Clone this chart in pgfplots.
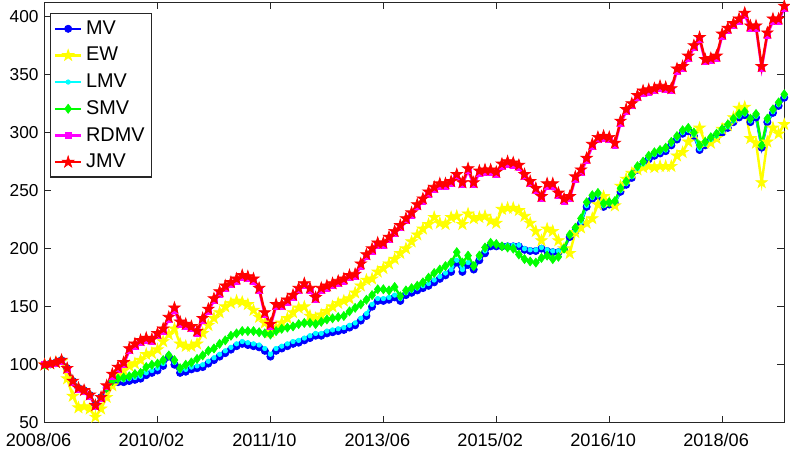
\documentclass[border=0pt]{standalone}
\usepackage{fontspec}
\setmainfont{Liberation Sans}
\usepackage{pgfplots}
\usepackage{pgfplotstable}
\pgfplotsset{compat=1.18}

\definecolor{mblue}{rgb}{0,0,1}
\definecolor{myellow}{rgb}{1,1,0}
\definecolor{mcyan}{rgb}{0,1,1}
\definecolor{mgreen}{rgb}{0,1,0}
\definecolor{mmagenta}{rgb}{1,0,1}
\definecolor{mred}{rgb}{1,0,0}

% filled five-pointed star, like MATLAB's 'p'
\pgfdeclareplotmark{pstar}{%
  \pgfpathmoveto{\pgfqpointpolar{90}{\pgfplotmarksize}}%
  \pgfpathlineto{\pgfqpointpolar{126}{0.382\pgfplotmarksize}}%
  \pgfpathlineto{\pgfqpointpolar{162}{\pgfplotmarksize}}%
  \pgfpathlineto{\pgfqpointpolar{198}{0.382\pgfplotmarksize}}%
  \pgfpathlineto{\pgfqpointpolar{234}{\pgfplotmarksize}}%
  \pgfpathlineto{\pgfqpointpolar{270}{0.382\pgfplotmarksize}}%
  \pgfpathlineto{\pgfqpointpolar{306}{\pgfplotmarksize}}%
  \pgfpathlineto{\pgfqpointpolar{342}{0.382\pgfplotmarksize}}%
  \pgfpathlineto{\pgfqpointpolar{18}{\pgfplotmarksize}}%
  \pgfpathlineto{\pgfqpointpolar{54}{0.382\pgfplotmarksize}}%
  \pgfpathclose
  \pgfusepathqfillstroke}

% month index from 2008/06
\pgfplotstableread{
m MV EW LMV SMV RDMV JMV
0 100 100 100 100 100 100
1 101 101 101 101 100 101
2 102 102 102 102 101 102
3 104 103 104 104 103 104
4 97 88 97 97 96 97
5 86 73 86 86 85 86
6 80 63 80 80 79 80
7 78 64 78 78 77 78
8 74 62 74 74 73 74
9 65 55 65 65 64 65
10 72 62 72 72 71 72
11 80 72 80 80 81 82
12 84 82 86 86 90 92
13 85 90 87 88 96 98
14 85 95 87 89 100 102
15 86 99 88 90 112 114
16 87 101 89 92 116 118
17 88 104 90 93 119 121
18 91 109 93 98 121 123
19 93 110 95 100 120 122
20 95 113 97 101 125 127
21 99 120 101 104 129 131
22 107 126 109 108 139 141
23 100 131 102 104 147 149
24 93 118 95 97 135 137
25 94 116 96 100 133 135
26 96 116 98 102 131 133
27 97 118 99 105 127 129
28 98 127 100 108 138 140
29 101 134 103 112 146 148
30 104 140 106 114 155 157
31 107 145 109 118 161 163
32 110 150 112 121 166 168
33 113 153 115 125 169 171
34 116 155 118 127 172 174
35 118 154 120 129 175 177
36 117 152 119 129 174 176
37 116 147 118 129 172 174
38 115 141 117 128 164 166
39 112 136 114 127 143 145
40 107 128 109 126 133 135
41 112 132 114 129 150 152
42 114 136 116 131 150 152
43 116 140 118 132 154 156
44 118 145 120 133 158 160
45 119 149 121 135 164 166
46 121 150 123 136 168 170
47 123 142 125 136 164 166
48 125 140 127 135 156 158
49 125 143 127 137 164 166
50 127 146 129 139 166 168
51 128 150 130 140 168 170
52 129 153 131 141 170 172
53 130 155 132 142 172 174
54 132 157 134 146 175 177
55 134 162 136 149 176 178
56 138 168 140 152 185 187
57 142 173 144 156 193 195
58 150 174 152 160 198 200
59 155 180 157 165 203 205
60 155 183 157 165 203 205
61 156 187 158 164 208 210
62 158 191 160 167 213 215
63 155 196 157 159 218 220
64 160 200 162 164 224 226
65 162 206 164 166 229 231
66 164 212 166 168 236 238
67 166 217 168 171 241 243
68 168 221 170 175 247 249
69 171 227 173 179 251 253
70 174 222 176 182 254 256
71 177 221 179 185 254 256
72 180 227 182 188 256 258
73 188 228 190 197 262 264
74 180 221 182 188 255 257
75 186 230 188 194 267 269
76 182 226 184 185 255 257
77 190 227 192 194 265 267
78 196 228 198 201 266 268
79 202 224 204 205 266 268
80 202 222 204 204 264 266
81 202 234 203 202 271 273
82 202 235 203 201 273 275
83 202 235 203 200 272 274
84 202 233 203 195 270 272
85 199 228 200 191 262 264
86 198 222 199 189 256 258
87 198 215 199 188 250 252
88 200 207 201 192 243 245
89 198 217 199 194 254 256
90 197 215 198 191 254 256
91 197 207 198 193 246 248
92 200 200 201 200 241 243
93 210 196 211 212 243 245
94 215 214 216 218 260 262
95 222 218 223 226 266 268
96 236 222 237 240 276 278
97 243 226 244 246 288 290
98 245 238 246 248 294 296
99 236 245 237 239 295 297
100 238 240 239 240 294 296
101 239 237 240 241 289 291
102 249 254 250 252 308 310
103 255 260 256 258 318 320
104 261 265 262 264 323 325
105 268 268 269 271 330 332
106 272 270 273 275 334 336
107 277 271 278 280 335 337
108 280 270 281 283 336 338
109 282 271 283 285 338 340
110 284 271 285 287 337 339
111 289 271 290 292 336 338
112 294 280 295 297 353 355
113 299 283 300 302 355 357
114 301 292 302 304 364 366
115 297 299 298 300 373 375
116 285 304 286 289 380 382
117 289 291 290 292 361 363
118 293 291 294 296 362 364
119 296 295 297 299 364 366
120 300 303 301 303 383 385
121 304 306 305 307 388 390
122 309 313 310 312 392 394
123 313 321 314 316 396 398
124 315 322 316 318 401 403
125 309 295 310 312 390 392
126 313 291 314 316 390 392
127 287 257 288 289 355 357
128 309 292 310 312 384 386
129 317 304 318 320 396 398
130 323 299 324 326 396 398
131 330 307 331 333 407 409
}\data

\begin{document}
\begin{tikzpicture}
\begin{axis}[
    width=15.05cm, height=8.55cm, scale only axis,
    xmin=0, xmax=131, ymin=50, ymax=412,
    xtick={0,20,...,120},
    xticklabels={2008/06,2010/02,2011/10,2013/06,2015/02,2016/10,2018/06},
    ytick={50,100,...,400},
    /pgf/number format/assume math mode=true,
    yticklabel style={font=\fontsize{10}{12}\selectfont},
    xticklabel style={font=\fontsize{10.5}{12}\selectfont, xshift=-3.5pt, yshift=-2.5pt},
    major tick length=4pt,
    axis line style={black!85, line width=0.8pt},
    every tick/.style={black!85, line width=0.6pt},
    legend style={at={(0.0067,0.975)}, anchor=north west,
        font=\fontsize{11.5}{13}\selectfont, draw=black!85, line width=0.8pt,
        row sep=2pt, inner sep=2pt},
    legend cell align=left,
    legend image code/.code={\draw[mark repeat=2,mark phase=2,#1]
        plot coordinates {(0cm,0cm) (0.27cm,0cm) (0.54cm,0cm)};},
    every axis plot/.append style={line width=1.4pt},
]
\addplot[mblue, mark=*, mark size=2.1pt, mark options={fill=mblue, line width=0.4pt}] table[x=m, y=MV] {\data};
\addplot[myellow, mark=pstar, mark size=3.5pt, mark options={fill=myellow, line width=0.4pt}] table[x=m, y=EW] {\data};
\addplot[mcyan, mark=*, mark size=1.3pt, mark options={fill=mcyan, line width=0.4pt}] table[x=m, y=LMV] {\data};
\addplot[mgreen, mark=diamond*, mark size=2.6pt, mark options={fill=mgreen, line width=0.4pt}] table[x=m, y=SMV] {\data};
\addplot[mmagenta, mark=square*, mark size=1.7pt, mark options={fill=mmagenta, line width=0.4pt}] table[x=m, y=RDMV] {\data};
\addplot[mred, mark=pstar, mark size=3.5pt, mark options={fill=mred, line width=0.4pt}] table[x=m, y=JMV] {\data};
\legend{MV, EW, LMV, SMV, RDMV, JMV}
\end{axis}
\end{tikzpicture}
\end{document}
